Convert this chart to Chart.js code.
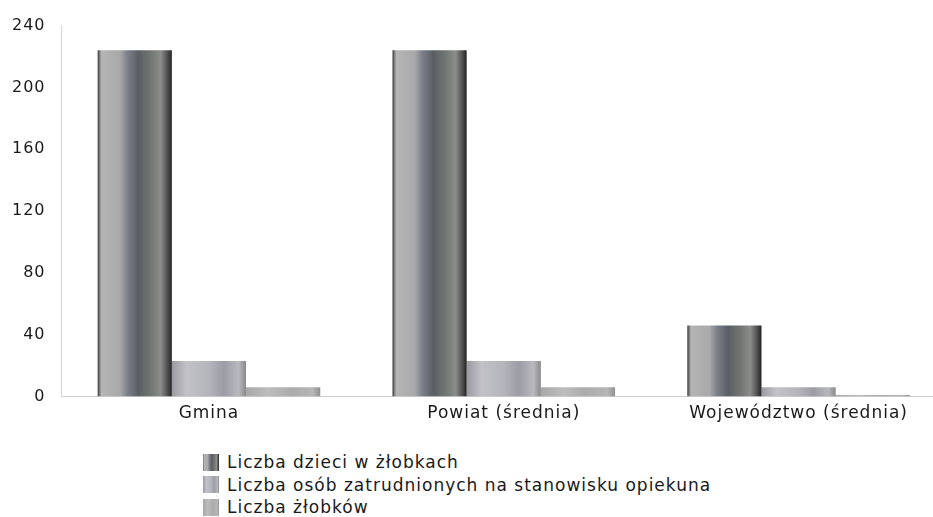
<!DOCTYPE html>
<html>
<head>
<meta charset="utf-8">
<script src="https://cdn.jsdelivr.net/npm/chart.js@4"></script>
<style>
html,body{margin:0;padding:0;background:#fff;overflow:hidden;width:933px;height:517px;}
#wrap{position:absolute;left:-8px;top:0;width:954px;height:431px;}
#legend{position:absolute;left:203px;top:451px;font-family:"DejaVu Sans",sans-serif;font-size:17px;letter-spacing:1px;color:#1a1a1a;line-height:22.5px;}
#legend div{display:flex;align-items:center;white-space:nowrap;}
#legend span.box{display:inline-block;width:16px;height:17px;margin-right:8px;}
</style>
</head>
<body>
<div id="wrap"><canvas id="c"></canvas></div>
<div id="legend"></div>
<script>
const categories = ["Gmina", "Powiat (średnia)", "Województwo (średnia)"];
const seriesNames = ["Liczba dzieci w żłobkach", "Liczba osób zatrudnionych na stanowisku opiekuna", "Liczba żłobków"];
const dzieci = [224, 224, 46];
const opiekunowie = [23, 23, 6];
const zlobki = [6, 6, 1];
const yTicks = [0, 40, 80, 120, 160, 200, 240];

const stops = [
  [[0,'#3a3a3a'],[0.05,'#b5b5b5'],[0.3,'#a9a9ab'],[0.4,'#7c808a'],[0.55,'#5a5e64'],[0.7,'#6f7470'],[0.85,'#8b8d8b'],[0.95,'#4a4a4a'],[1,'#222']],
  [[0,'#9a9aa0'],[0.2,'#c2c2c8'],[0.5,'#b4b4bc'],[0.7,'#9c9ca6'],[0.9,'#b8b8be'],[1,'#8a8a8a']],
  [[0,'#a8a8a8'],[0.3,'#bdbdbd'],[0.6,'#acacac'],[0.9,'#b6b6b6'],[1,'#909090']]
];
const flat = ['#6a6c70', '#b0b0b8', '#b0b0b0'];

function grad(ctx, dsIndex){
  const chart = ctx.chart;
  const x = chart.scales.x;
  if (!x || ctx.dataIndex === undefined) return flat[dsIndex];
  const cat = (x.right - x.left) / categories.length;
  const group = cat * 0.755;
  const bw = group / 3;
  const center = x.getPixelForValue(ctx.dataIndex);
  const left = center - group/2 + dsIndex*bw;
  if (!isFinite(left) || !isFinite(bw) || bw <= 0) return flat[dsIndex];
  const g = chart.ctx.createLinearGradient(left, 0, left + bw, 0);
  stops[dsIndex].forEach(s => g.addColorStop(s[0], s[1]));
  return g;
}

const data = {
  labels: categories,
  datasets: [
    {label: seriesNames[0], data: dzieci, backgroundColor: c => grad(c,0)},
    {label: seriesNames[1], data: opiekunowie, backgroundColor: c => grad(c,1)},
    {label: seriesNames[2], data: zlobki, backgroundColor: c => grad(c,2)}
  ]
};

const spacing = {
  id: 'spacing',
  beforeUpdate(chart){ chart.ctx.letterSpacing = '1px'; },
  beforeLayout(chart){ chart.ctx.letterSpacing = '1px'; },
  beforeDraw(chart){ chart.ctx.letterSpacing = '1px'; }
};

new Chart(document.getElementById('c'), {
  type: 'bar',
  data,
  plugins: [spacing],
  options: {
    responsive: true,
    maintainAspectRatio: false,
    animation: false,
    devicePixelRatio: 1,
    layout: {padding: {left: 4, right: 0, top: 10, bottom: 0}},
    datasets: {bar: {categoryPercentage: 0.755, barPercentage: 1.0, borderWidth: 0}},
    plugins: {legend: {display: false}, tooltip: {enabled: false}},
    scales: {
      x: {
        grid: {display: false, drawTicks: false},
        border: {display: true, color: '#cfcfcf', width: 1},
        ticks: {font: {family: '"DejaVu Sans", sans-serif', size: 17}, color: '#1a1a1a', padding: 7}
      },
      y: {
        min: 0, max: 240,
        afterBuildTicks: s => { s.ticks = yTicks.map(v => ({value: v})); },
        grid: {display: false, drawTicks: false},
        border: {display: true, color: '#d5d5d5', width: 1},
        ticks: {font: {family: '"DejaVu Sans", sans-serif', size: 16}, color: '#1a1a1a', padding: 16}
      }
    }
  }
});

const lg = document.getElementById('legend');
seriesNames.forEach((n, i) => {
  const d = document.createElement('div');
  const b = document.createElement('span');
  b.className = 'box';
  b.style.background = 'linear-gradient(90deg,' + stops[i].map(s => s[1] + ' ' + (s[0]*100) + '%').join(',') + ')';
  d.appendChild(b);
  d.appendChild(document.createTextNode(n));
  lg.appendChild(d);
});
</script>
</body>
</html>
